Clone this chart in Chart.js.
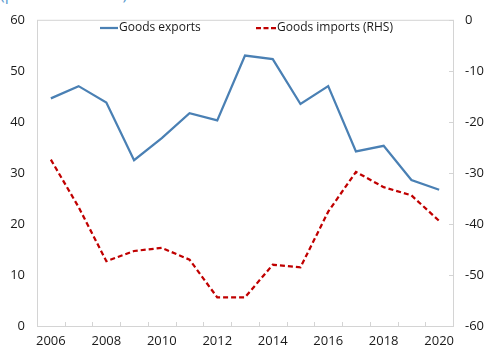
<!DOCTYPE html>
<html>
<head>
<meta charset="utf-8">
<script src="https://cdn.jsdelivr.net/npm/chart.js@4"></script>
<style>
  html, body { margin: 0; padding: 0; background: #fff; overflow: hidden; }
  #wrap { position: relative; width: 484px; height: 349px; }
  #title {
    position: absolute; left: 0; top: -17px;
    font: 16px "Open Sans", sans-serif; color: #5b9bd0; white-space: nowrap;
  }
  canvas { position: absolute; left: 0; top: 0; }
</style>
</head>
<body>
<div id="wrap">
  <div id="title">(per cent of GDP)</div>
  <canvas id="c" width="484" height="349"></canvas>
</div>
<script>
/* ─── Data ──────────────────────────────────────── */
const YEARS = ['2006','2007','2008','2009','2010','2011','2012','2013',
               '2014','2015','2016','2017','2018','2019','2020'];
const EXPORTS = [44.6, 47.0, 43.8, 32.5, 36.8, 41.7, 40.3, 53.0,
                 52.3, 43.5, 47.0, 34.2, 35.3, 28.6, 26.7];
const IMPORTS = [-27.4, -36.7, -47.3, -45.3, -44.7, -47.0, -54.4, -54.4,
                 -48.0, -48.5, -37.6, -29.8, -32.8, -34.4, -39.4];
const LEFT_TICKS  = [0, 10, 20, 30, 40, 50, 60];
const RIGHT_TICKS = [-60, -50, -40, -30, -20, -10, 0];

const BLUE = '#4a80b4';
const RED  = '#c00000';
const FRAME = '#d4d4d4';
const FONT = { family: 'Open Sans', size: 13 };

/* ─── Plugins ───────────────────────────────────── */
const frame = {
  id: 'frame',
  afterDraw(chart) {
    const { ctx, chartArea: a, scales } = chart;
    ctx.save();
    ctx.strokeStyle = FRAME;
    ctx.lineWidth = 1;
    ctx.strokeRect(a.left + 0.5, a.top + 0.5, a.right - a.left, a.bottom - a.top);
    // inward tick marks on the category axis
    const n = YEARS.length;
    const w = (a.right - a.left) / n;
    ctx.beginPath();
    for (let i = 1; i < n; i++) {
      const x = Math.round(a.left + i * w) + 0.5;
      ctx.moveTo(x, a.bottom);
      ctx.lineTo(x, a.bottom - 4);
    }
    // inward tick marks on the right axis
    RIGHT_TICKS.forEach(v => {
      const y = Math.round(scales.y2.getPixelForValue(v)) + 0.5;
      ctx.moveTo(a.right, y);
      ctx.lineTo(a.right - 4, y);
    });
    ctx.stroke();

    // legend inside the plot
    const ly = 28;
    ctx.font = '12px "Open Sans"';
    ctx.fillStyle = '#1a1a1a';
    ctx.textBaseline = 'middle';
    ctx.lineWidth = 2.25;
    ctx.strokeStyle = BLUE;
    ctx.beginPath(); ctx.moveTo(100, ly); ctx.lineTo(118, ly); ctx.stroke();
    ctx.fillText('Goods exports', 119, ly);
    ctx.strokeStyle = RED;
    ctx.setLineDash([5, 2.5]);
    ctx.beginPath(); ctx.moveTo(256, ly); ctx.lineTo(276, ly); ctx.stroke();
    ctx.setLineDash([]);
    ctx.fillText('Goods imports (RHS)', 277, ly);
    ctx.restore();
  }
};

/* ─── Chart ─────────────────────────────────────── */
new Chart(document.getElementById('c'), {
  type: 'line',
  data: {
    labels: YEARS,
    datasets: [
      {
        label: 'Goods exports',
        data: EXPORTS,
        yAxisID: 'y',
        borderColor: BLUE,
        borderWidth: 2.25,
        pointRadius: 0,
        tension: 0,
      },
      {
        label: 'Goods imports (RHS)',
        data: IMPORTS,
        yAxisID: 'y2',
        borderColor: RED,
        borderWidth: 2.25,
        borderDash: [5, 3],
        pointRadius: 0,
        tension: 0,
      },
    ],
  },
  options: {
    responsive: false,
    animation: false,
    layout: { padding: { top: 13, left: 0, right: 0, bottom: 0 } },
    plugins: { legend: { display: false }, tooltip: { enabled: false } },
    scales: {
      x: {
        offset: true,
        grid: { display: false, drawTicks: false },
        border: { display: false },
        afterFit: s => { s.height = 23; },
        ticks: {
          autoSkip: false, maxRotation: 0, padding: 7,
          color: '#1a1a1a', font: FONT,
          callback: (v, i) => (i % 2 === 0 ? YEARS[i] : ''),
        },
      },
      y: {
        position: 'left',
        min: 0, max: 60,
        afterBuildTicks: s => { s.ticks = LEFT_TICKS.map(v => ({ value: v })); },
        afterFit: s => { s.width = 37; },
        grid: { display: false, drawTicks: false },
        border: { display: false },
        ticks: { padding: 12, color: '#1a1a1a', font: FONT },
      },
      y2: {
        position: 'right',
        min: -60, max: 0,
        afterBuildTicks: s => { s.ticks = RIGHT_TICKS.map(v => ({ value: v })); },
        afterFit: s => { s.width = 31; },
        grid: { display: false, drawTicks: false },
        border: { display: false },
        ticks: { padding: 12, color: '#1a1a1a', font: FONT },
      },
    },
  },
  plugins: [frame],
});
</script>
</body>
</html>
